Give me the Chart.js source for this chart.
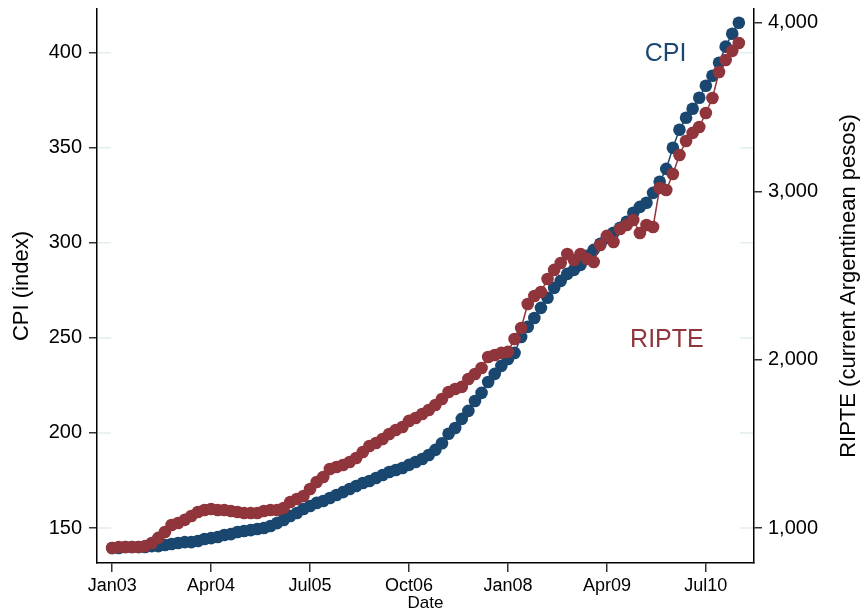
<!DOCTYPE html>
<html>
<head>
<meta charset="utf-8">
<script src="https://cdn.jsdelivr.net/npm/chart.js@4/dist/chart.umd.min.js"></script>
<style>
  body { margin: 0; background: #ffffff; }
  #wrap { width: 860px; height: 616px; }
</style>
</head>
<body>
<div id="wrap"><canvas id="chart" width="860" height="616"></canvas></div>
<script>
// Monthly series, Jan 2003 - Dec 2010
const cpi = [
  139.5, 139.5, 140.0, 140.0, 140.0, 140.0, 140.5, 140.5, 141.1, 141.6, 142.1, 142.6,
  142.6, 143.2, 144.2, 144.7, 145.3, 146.3, 146.8, 147.9, 148.4, 148.9, 149.5, 150.0,
  151.1, 152.6, 154.2, 156.3, 157.9, 160.0, 161.6, 163.2, 164.2, 165.8, 167.4, 168.9,
  170.5, 172.1, 173.7, 174.7, 176.3, 177.9, 179.5, 180.5, 181.6, 183.2, 184.7, 186.3,
  188.4, 191.1, 194.6, 199.6, 202.6, 207.4, 211.6, 216.8, 221.1, 226.8, 231.1, 235.3,
  238.9, 242.1, 250.5, 255.8, 260.5, 265.8, 271.1, 276.3, 280.0, 283.7, 285.8, 288.4,
  293.2, 296.3, 299.5, 302.6, 305.3, 307.9, 311.1, 315.8, 318.9, 321.1, 326.3, 332.1,
  338.9, 350.0, 359.5, 365.8, 370.5, 376.3, 382.6, 387.9, 394.7, 403.2, 410.0, 415.8
]
const ripte = [
  881, 887, 887, 887, 887, 893, 911, 941, 976, 1018, 1030, 1048,
  1071, 1095, 1107, 1113, 1107, 1107, 1101, 1095, 1089, 1089, 1089, 1101,
  1107, 1107, 1119, 1154, 1172, 1190, 1232, 1273, 1303, 1350, 1362, 1374,
  1392, 1416, 1451, 1487, 1505, 1529, 1558, 1582, 1600, 1636, 1653, 1677,
  1701, 1731, 1766, 1808, 1826, 1838, 1885, 1915, 1950, 2016, 2028, 2040,
  2046, 2123, 2188, 2331, 2378, 2402, 2479, 2533, 2574, 2628, 2592, 2628,
  2598, 2580, 2681, 2735, 2699, 2776, 2800, 2830, 2752, 2800, 2788, 3020,
  3008, 3103, 3216, 3299, 3347, 3382, 3465, 3554, 3709, 3780, 3834, 3881
]

const xTickMonths = [0, 15, 30, 45, 60, 75, 90]
const xTickLabels = ["Jan03", "Apr04", "Jul05", "Oct06", "Jan08", "Apr09", "Jul10"]
const cpiTicks = [150, 200, 250, 300, 350, 400]
const ripteTicks = [1000, 2000, 3000, 4000]

const blue = "#1a476f"
const red = "#90353b"
const fontFamily = '"Liberation Sans", Arial, Helvetica, sans-serif'

// where the series names sit (month, CPI value)
const cpiNameAt = { x: 83.9, y: 399.5 }
const ripteNameAt = { x: 84.1, y: 249 }

// Extra drawing: short grid stubs, right axis title, series names
const chartExtras = {
  id: "chartExtras",
  beforeDatasetsDraw(chart) {
    const { ctx, chartArea } = chart
    const yScale = chart.scales.yLeft
    ctx.save()
    ctx.strokeStyle = "#e3edf0"
    ctx.lineWidth = 1.5
    cpiTicks.forEach((v) => {
      const py = yScale.getPixelForValue(v)
      ctx.beginPath()
      ctx.moveTo(chartArea.left + 1, py)
      ctx.lineTo(chartArea.left + 14, py)
      ctx.moveTo(chartArea.right - 14, py)
      ctx.lineTo(chartArea.right - 1, py)
      ctx.stroke()
    })
    ctx.restore()
  },
  afterDraw(chart) {
    const { ctx, chartArea } = chart
    const xs = chart.scales.x
    const ys = chart.scales.yLeft
    ctx.save()
    ctx.textAlign = "center"
    ctx.textBaseline = "middle"

    ctx.font = "25px " + fontFamily
    ctx.fillStyle = blue
    ctx.fillText("CPI", xs.getPixelForValue(cpiNameAt.x), ys.getPixelForValue(cpiNameAt.y))
    ctx.fillStyle = red
    ctx.fillText("RIPTE", xs.getPixelForValue(ripteNameAt.x), ys.getPixelForValue(ripteNameAt.y))

    // right axis title reads bottom to top
    ctx.translate(849, (chartArea.top + chartArea.bottom) / 2)
    ctx.rotate(-Math.PI / 2)
    ctx.font = "22px " + fontFamily
    ctx.fillStyle = "#000000"
    ctx.fillText("RIPTE (current Argentinean pesos)", 0, 0)
    ctx.restore()
  }
}

// keep the plot box fixed: no extra room for half-labels at the ends
function fixVertical(width) {
  return (scale) => {
    scale.width = width
    scale.paddingTop = 0
    scale.paddingBottom = 0
  }
}

const ctx = document.getElementById("chart").getContext("2d")
new Chart(ctx, {
  type: "line",
  data: {
    datasets: [
      {
        label: "RIPTE",
        data: ripte.map((v, i) => ({ x: i, y: v })),
        yAxisID: "yRight",
        borderColor: red,
        backgroundColor: red,
        borderWidth: 1.5,
        pointRadius: 6.3,
        pointBorderWidth: 0,
        tension: 0,
        order: 0,
      },
      {
        label: "CPI",
        data: cpi.map((v, i) => ({ x: i, y: v })),
        yAxisID: "yLeft",
        borderColor: blue,
        backgroundColor: blue,
        borderWidth: 1.5,
        pointRadius: 6.3,
        pointBorderWidth: 0,
        tension: 0,
        order: 1,
      },
    ],
  },
  options: {
    responsive: false,
    animation: false,
    devicePixelRatio: 1,
    layout: { padding: { top: 9, left: 0, right: 0, bottom: 0 } },
    plugins: {
      legend: { display: false },
      tooltip: { enabled: false },
    },
    scales: {
      x: {
        type: "linear",
        min: -2.3,
        max: 97.3,
        afterBuildTicks: (scale) => {
          scale.ticks = xTickMonths.map((v) => ({ value: v }))
        },
        afterFit: (scale) => {
          scale.height = 53
          scale.paddingLeft = 0
          scale.paddingRight = 0
        },
        ticks: {
          autoSkip: false,
          maxRotation: 0,
          padding: 3,
          color: "#000000",
          font: { family: fontFamily, size: 18 },
          callback: (v) => xTickLabels[xTickMonths.indexOf(v)],
        },
        grid: { drawOnChartArea: false, drawTicks: true, tickLength: 9, color: "#333333", lineWidth: 1.5 },
        border: { color: "#000000", width: 1.5 },
        title: {
          display: true,
          text: "Date",
          color: "#000000",
          font: { family: fontFamily, size: 17 },
          padding: { top: 0, bottom: 2 },
        },
      },
      yLeft: {
        type: "linear",
        position: "left",
        min: 131.6,
        max: 423,
        afterBuildTicks: (scale) => {
          scale.ticks = cpiTicks.map((v) => ({ value: v }))
        },
        afterFit: fixVertical(97),
        ticks: {
          padding: 7,
          color: "#000000",
          font: { family: fontFamily, size: 20 },
        },
        grid: { drawOnChartArea: false, drawTicks: true, tickLength: 8, color: "#333333", lineWidth: 1.5 },
        border: { color: "#000000", width: 1.5 },
        title: {
          display: true,
          text: "CPI (index)",
          color: "#000000",
          font: { family: fontFamily, size: 22 },
          padding: { top: 9, bottom: 0 },
        },
      },
      yRight: {
        type: "linear",
        position: "right",
        min: 792,
        max: 4083,
        afterBuildTicks: (scale) => {
          scale.ticks = ripteTicks.map((v) => ({ value: v }))
        },
        afterFit: fixVertical(106),
        ticks: {
          padding: 6,
          color: "#000000",
          font: { family: fontFamily, size: 20 },
          callback: (v) => v.toLocaleString("en-US"),
        },
        grid: { drawOnChartArea: false, drawTicks: true, tickLength: 8, color: "#333333", lineWidth: 1.5 },
        border: { color: "#000000", width: 1.5 },
      },
    },
  },
  plugins: [chartExtras],
})
</script>
</body>
</html>
